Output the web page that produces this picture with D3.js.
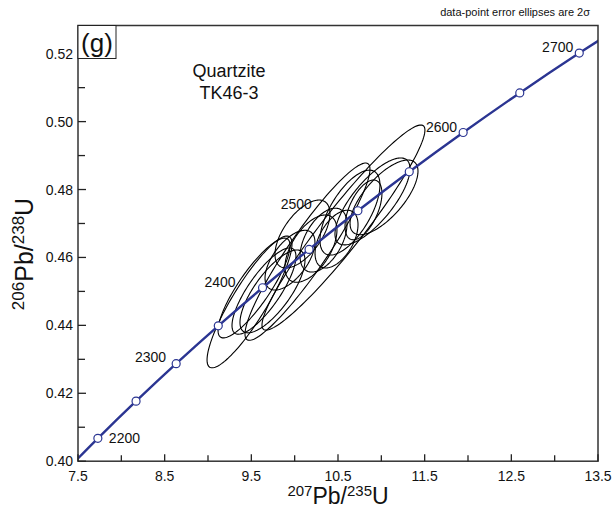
<!DOCTYPE html>
<html>
<head>
<meta charset="utf-8">
<script src="https://cdn.jsdelivr.net/npm/d3@7"></script>
<style>
  html, body { margin: 0; padding: 0; background: #fff; }
  svg { display: block; font-family: "Liberation Sans", Arial, sans-serif; }
</style>
</head>
<body>
<svg id="chart" width="614" height="508"></svg>
<script>
// Concordia reference ages (Ma) with their 207Pb/235U and 206Pb/238U ratios
const concAges = [2150, 2200, 2250, 2300, 2350, 2400, 2450, 2500, 2550, 2600, 2650, 2700, 2750];
const concX = [7.3097, 7.7292, 8.1698, 8.6326, 9.1186, 9.6295, 10.1661, 10.7299, 11.3222, 11.9442, 12.5974, 13.2838, 14.0047];
const concY = [0.39587, 0.40674, 0.41769, 0.42873, 0.43986, 0.45107, 0.46237, 0.47375, 0.48523, 0.49679, 0.50845, 0.52019, 0.53203];
const labelAges = [2200, 2300, 2400, 2500, 2600, 2700];

// Analyses: ratio, 2-sigma half-width and error correlation
const ptX   = [9.479, 9.531, 9.646, 9.744, 10.148, 10.563, 10.188, 10.333, 10.483, 10.794, 10.898, 11.031, 10.638, 10.090, 9.946];
const ptSX  = [0.490, 0.415, 0.369, 0.375, 0.721, 0.940, 0.300, 0.271, 0.248, 0.213, 0.433, 0.392, 0.346, 0.317, 0.288];
const ptY   = [0.4469, 0.4510, 0.4501, 0.4500, 0.4617, 0.4688, 0.4626, 0.4651, 0.4654, 0.4740, 0.4765, 0.4777, 0.4732, 0.4669, 0.4592];
const ptSY  = [0.0194, 0.0147, 0.0127, 0.0122, 0.0261, 0.0302, 0.0099, 0.0094, 0.0085, 0.0088, 0.0128, 0.0110, 0.0125, 0.0100, 0.0088];
const ptRho = [0.88, 0.85, 0.80, 0.75, 0.93, 0.95, 0.55, 0.50, 0.50, 0.55, 0.75, 0.70, 0.65, 0.60, 0.60];

// Axis ticks
const xMajor = [7.5, 8.5, 9.5, 10.5, 11.5, 12.5, 13.5];
const xMinor = [8.0, 9.0, 10.0, 11.0, 12.0, 13.0];
const yMajor = [0.40, 0.42, 0.44, 0.46, 0.48, 0.50, 0.52];
const yMinor = [0.41, 0.43, 0.45, 0.47, 0.49, 0.51];

const svg = d3.select("#chart");
const L = 78, R = 598, T = 25.5, B = 461.2;
const x = d3.scaleLinear().domain([7.5, 13.5]).range([L, R]);
const y = d3.scaleLinear().domain([0.40, 0.5283]).range([B, T]);

svg.append("defs").append("clipPath").attr("id", "plotClip")
  .append("rect").attr("x", L).attr("y", T).attr("width", R - L).attr("height", B - T);

const plot = svg.append("g").attr("clip-path", "url(#plotClip)");

// Error ellipses
const nSeg = 140;
const ellipseLine = d3.line().x(d => d[0]).y(d => d[1]).curve(d3.curveLinearClosed);
ptX.forEach((cx, i) => {
  const sx = ptSX[i], sy = ptSY[i], r = ptRho[i], q = Math.sqrt(1 - r * r);
  const pts = d3.range(nSeg).map(k => {
    const t = 2 * Math.PI * k / nSeg;
    return [x(cx + sx * Math.cos(t)), y(ptY[i] + sy * (r * Math.cos(t) + q * Math.sin(t)))];
  });
  plot.append("path").attr("d", ellipseLine(pts))
    .attr("fill", "none").attr("stroke", "#000").attr("stroke-width", 1.1);
});

// Concordia curve
const conc = concAges.map((a, i) => ({ age: a, x: concX[i], y: concY[i] }));
plot.append("path")
  .attr("d", d3.line().x(d => x(d.x)).y(d => y(d.y)).curve(d3.curveNatural)(conc))
  .attr("fill", "none").attr("stroke", "#2b3592").attr("stroke-width", 2.4);

plot.selectAll("circle.age").data(conc.filter(d => d.age >= 2200 && d.age <= 2700))
  .join("circle").attr("class", "age")
  .attr("cx", d => x(d.x)).attr("cy", d => y(d.y)).attr("r", 4)
  .attr("fill", "#fff").attr("stroke", "#2b3592").attr("stroke-width", 1.2);

// Age labels beside the concordia markers
const labelPlace = {
  2200: { dx: 11, dy: 5, anchor: "start" },
  2300: { dx: -10, dy: -2, anchor: "end" },
  2400: { dx: -27, dy: -1, anchor: "end" },
  2500: { dx: -46, dy: -2, anchor: "end" },
  2600: { dx: -6, dy: -1, anchor: "end" },
  2700: { dx: -6, dy: -1, anchor: "end" }
};
svg.append("g").selectAll("text").data(conc.filter(d => labelAges.includes(d.age)))
  .join("text")
  .attr("x", d => x(d.x) + labelPlace[d.age].dx)
  .attr("y", d => y(d.y) + labelPlace[d.age].dy)
  .attr("text-anchor", d => labelPlace[d.age].anchor)
  .attr("font-size", 14).attr("fill", "#111")
  .text(d => d.age);

// Frame
svg.append("rect").attr("x", L).attr("y", T).attr("width", R - L).attr("height", B - T)
  .attr("fill", "none").attr("stroke", "#333").attr("stroke-width", 1.5);

// Inward ticks
const axX = svg.append("g");
axX.selectAll("line.maj").data(xMajor).join("line").attr("class", "maj")
  .attr("x1", d => x(d)).attr("x2", d => x(d)).attr("y1", B).attr("y2", B - 7)
  .attr("stroke", "#222").attr("stroke-width", 1.3);
axX.selectAll("line.min").data(xMinor).join("line").attr("class", "min")
  .attr("x1", d => x(d)).attr("x2", d => x(d)).attr("y1", B).attr("y2", B - 6)
  .attr("stroke", "#222").attr("stroke-width", 1.3);
axX.selectAll("text").data(xMajor).join("text")
  .attr("x", d => x(d)).attr("y", B + 20).attr("text-anchor", "middle")
  .attr("font-size", 14).attr("fill", "#111").text(d => d.toFixed(1));

const axY = svg.append("g");
axY.selectAll("line.maj").data(yMajor).join("line").attr("class", "maj")
  .attr("x1", L).attr("x2", L + 8).attr("y1", d => y(d)).attr("y2", d => y(d))
  .attr("stroke", "#222").attr("stroke-width", 1.3);
axY.selectAll("line.min").data(yMinor).join("line").attr("class", "min")
  .attr("x1", L).attr("x2", L + 7).attr("y1", d => y(d)).attr("y2", d => y(d))
  .attr("stroke", "#222").attr("stroke-width", 1.3);
axY.selectAll("text").data(yMajor).join("text")
  .attr("x", L - 5).attr("y", d => y(d) + 5).attr("text-anchor", "end")
  .attr("font-size", 14).attr("fill", "#111").text(d => d.toFixed(2));

// Axis titles
const xt = svg.append("text").attr("x", (L + R) / 2).attr("y", 504)
  .attr("text-anchor", "middle").attr("fill", "#111").attr("font-size", 23);
xt.append("tspan").attr("font-size", 15).attr("dy", -8).text("207");
xt.append("tspan").attr("dy", 8).text("Pb/");
xt.append("tspan").attr("font-size", 15).attr("dy", -8).text("235");
xt.append("tspan").attr("dy", 8).text("U");

const yt = svg.append("text").attr("transform", "translate(33,254) rotate(-90)")
  .attr("text-anchor", "middle").attr("fill", "#111").attr("font-size", 25);
yt.append("tspan").attr("font-size", 17).attr("dy", -9).text("206");
yt.append("tspan").attr("dy", 9).text("Pb/");
yt.append("tspan").attr("font-size", 17).attr("dy", -9).text("238");
yt.append("tspan").attr("dy", 9).text("U");

// Panel tag
svg.append("rect").attr("x", L).attr("y", T).attr("width", 38).attr("height", 33)
  .attr("fill", "#fff").attr("stroke", "#222").attr("stroke-width", 1);
svg.append("text").attr("x", L + 19).attr("y", T + 26).attr("text-anchor", "middle")
  .attr("font-size", 26).attr("fill", "#111").text("(g)");

// Sample name
svg.append("text").attr("x", 229).attr("y", 77).attr("text-anchor", "middle")
  .attr("font-size", 18).attr("fill", "#111").text("Quartzite");
svg.append("text").attr("x", 229).attr("y", 99).attr("text-anchor", "middle")
  .attr("font-size", 18).attr("fill", "#111").text("TK46-3");

// Note on ellipse size
svg.append("text").attr("x", 590).attr("y", 16).attr("text-anchor", "end")
  .attr("font-size", 11).attr("fill", "#111").text("data-point error ellipses are 2σ");
</script>
</body>
</html>
